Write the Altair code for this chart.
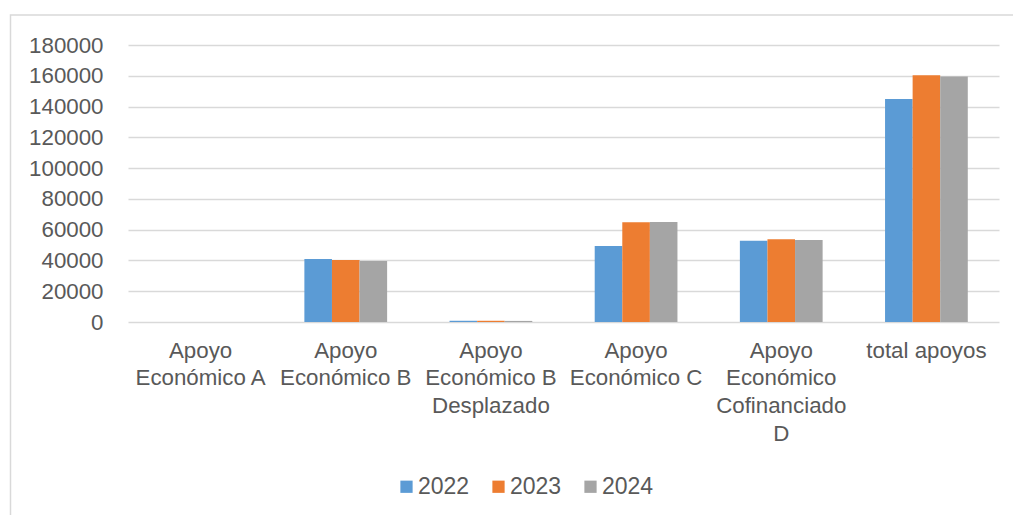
import altair as alt
import pandas as pd

categories = [
    "Apoyo\nEconómico A",
    "Apoyo\nEconómico B",
    "Apoyo\nEconómico B\nDesplazado",
    "Apoyo\nEconómico C",
    "Apoyo\nEconómico\nCofinanciado\nD",
    "total apoyos",
]
years = ["2022", "2023", "2024"]
v2022 = [0, 41000, 800, 49400, 52800, 144900]
v2023 = [0, 40300, 800, 64800, 53700, 160300]
v2024 = [0, 39600, 700, 65000, 53300, 159600]
colors = ["#5B9BD5", "#ED7D31", "#A5A5A5"]
y_ticks = list(range(0, 180001, 20000))

rows = []
for yr, vals in zip(years, [v2022, v2023, v2024]):
    for c, v in zip(categories, vals):
        rows.append({"cat": c, "year": yr, "value": v})
df = pd.DataFrame(rows)

FONT = "Liberation Sans"
TXT = "#595959"
GRID = "#D9D9D9"

bars = alt.Chart(df).mark_bar(strokeWidth=0).encode(
    x=alt.X(
        "cat:N",
        sort=categories,
        scale=alt.Scale(paddingInner=0.43, paddingOuter=0.215),
        axis=alt.Axis(
            title=None,
            labelAngle=0,
            labelExpr="split(datum.label, '\\n')",
            labelFont=FONT,
            labelFontSize=22.3,
            labelColor=TXT,
            labelLineHeight=27.7,
            labelPadding=17,
            labelLimit=400,
            labelOverlap=False,
            labelBound=False,
            ticks=False,
            domain=False,
            grid=False,
        ),
    ),
    xOffset=alt.XOffset("year:N", sort=years, scale=alt.Scale(paddingInner=0, paddingOuter=0)),
    y=alt.Y(
        "value:Q",
        scale=alt.Scale(domain=[0, 180000], nice=False),
        axis=alt.Axis(
            title=None,
            values=y_ticks,
            format="d",
            labelFont=FONT,
            labelFontSize=22.3,
            labelColor=TXT,
            labelPadding=25,
            ticks=False,
            domain=False,
            grid=True,
            gridColor=GRID,
            gridWidth=1.5,
        ),
    ),
    color=alt.Color(
        "year:N",
        sort=years,
        scale=alt.Scale(domain=years, range=colors),
        legend=alt.Legend(
            title=None,
            orient="none",
            direction="horizontal",
            legendX=267,
            legendY=430,
            symbolType="square",
            symbolSize=150,
            symbolStrokeWidth=0,
            labelFont=FONT,
            labelFontSize=23,
            labelColor=TXT,
            labelOffset=0,
            columnPadding=17,
        ),
    ),
)

border = alt.Chart(pd.DataFrame({"a": [0]})).mark_rect(
    fill=None, stroke=GRID, strokeWidth=1.5
).encode(
    x=alt.value(-117.5), x2=alt.value(895), y=alt.value(-30), y2=alt.value(480)
)

chart = alt.layer(border, bars).properties(
    width=871,
    height=277,
    autosize=alt.AutoSizeParams(type="none"),
    padding={"left": 128, "top": 45, "right": 14, "bottom": 193},
    background="white",
).configure_view(stroke=None)

chart.save("out.html", embed_options={"renderer": "svg", "actions": False})
